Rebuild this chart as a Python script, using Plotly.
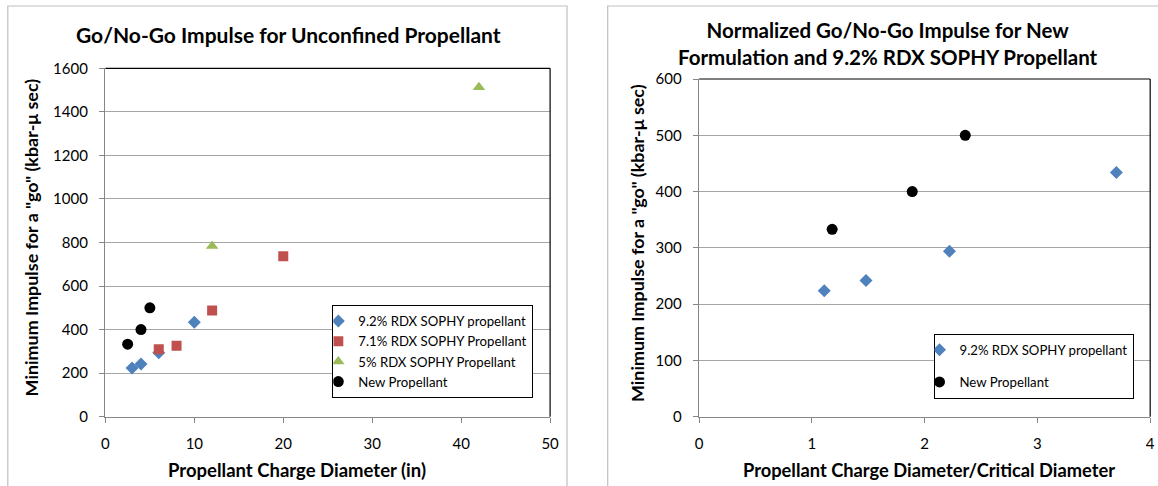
import plotly.graph_objects as go

W, H = 1158, 486

# ---- Left chart data ----
left_title = "Go/No-Go Impulse for Unconfined Propellant"
left_xtitle = "Propellant Charge Diameter (in)"
ytitle = 'Minimum Impulse for a "go" (kbar-μ sec)'

s92_x = [3, 4, 6, 10]
s92_y = [224, 242, 294, 434]
s71_x = [6, 8, 12, 20]
s71_y = [310, 326, 488, 737]
s5_x = [12, 42]
s5_y = [784, 1513]
new_x = [2.5, 4, 5]
new_y = [333, 400, 500]

# ---- Right chart data ----
right_title = "Normalized Go/No-Go Impulse for New<br>Formulation and 9.2% RDX SOPHY Propellant"
right_xtitle = "Propellant Charge Diameter/Critical Diameter"
n92_x = [1.11, 1.48, 2.22, 3.70]
n92_y = [224, 242, 294, 434]
nnew_x = [1.18, 1.89, 2.36]
nnew_y = [333, 400, 500]

names = ["9.2% RDX SOPHY propellant", "7.1% RDX SOPHY Propellant",
         "5% RDX SOPHY Propellant", "New Propellant"]

BLUE, RED, GREEN, BLACK = "#4F81BD", "#C0504D", "#9BBB59", "#000000"
FONT = "Lato"

fig = go.Figure()
fig.add_trace(go.Scatter(x=s92_x, y=s92_y, mode="markers", name=names[0],
                         marker=dict(symbol="diamond", size=10, color=BLUE),
                         xaxis="x", yaxis="y", legend="legend"))
fig.add_trace(go.Scatter(x=s71_x, y=s71_y, mode="markers", name=names[1],
                         marker=dict(symbol="square", size=10, color=RED),
                         xaxis="x", yaxis="y", legend="legend"))
fig.add_trace(go.Scatter(x=s5_x, y=s5_y, mode="markers", name=names[2],
                         marker=dict(symbol="triangle-up", size=11, color=GREEN),
                         xaxis="x", yaxis="y", legend="legend"))
fig.add_trace(go.Scatter(x=new_x, y=new_y, mode="markers", name=names[3],
                         marker=dict(symbol="circle", size=11, color=BLACK),
                         xaxis="x", yaxis="y", legend="legend"))

fig.add_trace(go.Scatter(x=n92_x, y=n92_y, mode="markers", name=names[0],
                         marker=dict(symbol="diamond", size=10, color=BLUE),
                         xaxis="x2", yaxis="y2", legend="legend2", legendgroup="a"))
fig.add_trace(go.Scatter(x=nnew_x, y=nnew_y, mode="markers", name=names[3],
                         marker=dict(symbol="circle", size=11, color=BLACK),
                         xaxis="x2", yaxis="y2", legend="legend2", legendgroup="b"))

AX = "#868686"
GRID = "#A6A6A6"
tickfont = dict(family=FONT, size=15, color="#000")

def xa(domain, rng, dtick, anchor):
    return dict(domain=domain, range=rng, dtick=dtick, anchor=anchor,
                showgrid=False, zeroline=False, showline=True, linecolor=AX,
                linewidth=1.5, ticks="outside", ticklen=5, tickcolor=AX,
                tickfont=tickfont, ticklabelstandoff=8, fixedrange=True,
                automargin=False)

def ya(domain, rng, dtick, anchor):
    return dict(domain=domain, range=rng, dtick=dtick, anchor=anchor,
                showgrid=True, gridcolor=GRID, gridwidth=1, zeroline=False,
                showline=True, linecolor=AX, linewidth=1.5, ticks="outside",
                ticklen=5, tickcolor=AX, tickfont=tickfont,
                ticklabelstandoff=8, fixedrange=True, automargin=False)

fig.update_layout(
    template="none",
    width=W, height=H, margin=dict(l=0, r=0, t=0, b=0, pad=0, autoexpand=False),
    paper_bgcolor="white", plot_bgcolor="white",
    font=dict(family=FONT, color="#000"),
    xaxis=xa([105.4 / W, 550.1 / W], [0, 50], 10, "y"),
    yaxis=ya([1 - 416.7 / H, 1 - 68.3 / H], [0, 1600], 200, "x"),
    xaxis2=xa([699.1 / W, 1150.2 / W], [0, 4], 1, "y2"),
    yaxis2=ya([1 - 416.7 / H, 1 - 79 / H], [0, 600], 100, "x2"),
    showlegend=True,
    legend=dict(x=332.3 / W, y=1 - 305 / H, xanchor="left", yanchor="top",
                bordercolor="#000", borderwidth=1, bgcolor="white",
                font=dict(family=FONT, size=13.2, color="#000"),
                itemwidth=30, tracegroupgap=0, indentation=-15),
    legend2=dict(x=933.5 / W, y=1 - 333.7 / H, xanchor="left", yanchor="top",
                 bordercolor="#000", borderwidth=1, bgcolor="white",
                 font=dict(family=FONT, size=13.2, color="#000"),
                 itemwidth=30, tracegroupgap=12, indentation=-15),
)

# plot-area top/right borders and outer chart frames
for xr, yr in (("x domain", "y domain"), ("x2 domain", "y2 domain")):
    fig.add_shape(type="line", xref=xr, yref=yr, x0=0, x1=1, y0=1, y1=1,
                  line=dict(color="#000", width=1.2), layer="above")
    fig.add_shape(type="line", xref=xr, yref=yr, x0=1, x1=1, y0=0, y1=1,
                  line=dict(color="#000", width=1.2), layer="above")
fig.add_shape(type="rect", xref="paper", yref="paper", x0=7.8 / W, x1=567 / W,
              y0=-0.05, y1=1 - 6 / H, line=dict(color="#BFBFBF", width=1.2))
fig.add_shape(type="rect", xref="paper", yref="paper", x0=607.7 / W, x1=1.05,
              y0=-0.05, y1=1 - 6 / H, line=dict(color="#BFBFBF", width=1.2))

def ann(text, x, y, size, angle=0):
    fig.add_annotation(text=text, x=x / W, y=1 - y / H, xref="paper", yref="paper",
                       showarrow=False, xanchor="center", yanchor="middle",
                       textangle=angle,
                       font=dict(family=FONT, size=size, color="#000"))

ann("<b>" + left_title + "</b>", 288, 35, 21)
ann("<b>" + right_title + "</b>", 887.8, 43.5, 20.5)
ann("<b>" + left_xtitle + "</b>", 297, 470, 18.5)
ann("<b>" + right_xtitle + "</b>", 928.5, 470, 18.3)
ann("<b>" + ytitle + "</b>", 31.4, 237, 17.9, -90)
ann("<b>" + ytitle + "</b>", 637, 243, 17.9, -90)

fig.write_html("out.html",
               config={"displayModeBar": False, "staticPlot": True},
               post_script="document.body.style.margin='0px';"
                           "document.body.style.overflow='hidden';")
